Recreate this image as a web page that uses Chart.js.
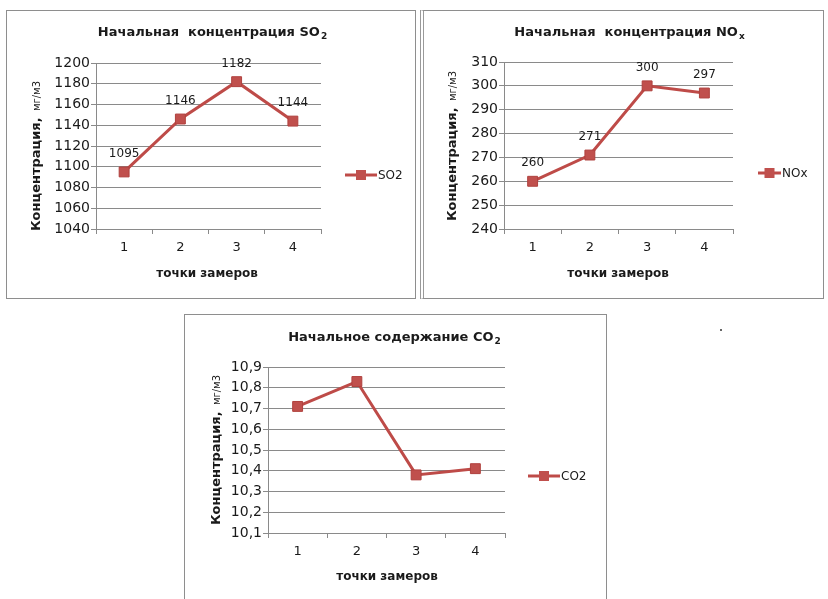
<!DOCTYPE html>
<html>
<head>
<meta charset="utf-8">
<script src="https://cdn.jsdelivr.net/npm/chart.js@4.4.0/dist/chart.umd.min.js"></script>
<style>
  body { margin: 0; background: #fff; width: 828px; height: 599px; overflow: hidden; position: relative; }
  .panel { position: absolute; border: 1px solid #8e8e8e; box-sizing: border-box; background: #fff; }
  .panel canvas { position: absolute; left: 0; top: 0; }
  #dot { position: absolute; left: 720px; top: 329px; width: 2px; height: 2px; background: #666; }
</style>
</head>
<body>
<div class="panel" style="left:6px;top:10px;width:410px;height:289px"><canvas id="c1" width="408" height="287"></canvas></div>
<div class="panel" style="left:420px;top:10px;width:404px;height:289px;border-left:4px double #9a9a9a"><canvas id="c2" width="399" height="287"></canvas></div>
<div class="panel" style="left:184px;top:314px;width:423px;height:300px"><canvas id="c3" width="421" height="298"></canvas></div>
<div id="dot"></div>
<script>
// точки замеров
const points = ['1', '2', '3', '4'];
// концентрации
const so2Values = [1095, 1146, 1182, 1144];
const noxValues = [260, 271, 300, 297];
const co2Values = [10.71, 10.83, 10.38, 10.41];
// оси Y
const so2Axis = [1040, 1200, 20];
const noxAxis = [240, 310, 10];
const co2Axis = [10.1, 10.9, 0.1];

const FONT = '"DejaVu Sans", "Noto Sans", sans-serif';
const RED = '#BE4B48';

// подписи, легенда и заголовки рисуем сами
const decor = {
  id: 'decor',
  afterDraw(chart, args, o) {
    const ctx = chart.ctx;
    ctx.save();
    ctx.fillStyle = '#1a1a1a';
    ctx.textBaseline = 'middle';

    // заголовок с индексом
    ctx.font = 'bold 13px ' + FONT;
    const w1 = ctx.measureText(o.title).width;
    ctx.font = 'bold 9px ' + FONT;
    const w2 = ctx.measureText(o.sub).width;
    let x = o.titleX - (w1 + w2) / 2;
    ctx.textAlign = 'left';
    ctx.font = 'bold 13px ' + FONT;
    ctx.fillText(o.title, x, o.titleY);
    ctx.font = 'bold 9px ' + FONT;
    ctx.fillText(o.sub, x + w1 + 1, o.titleY + 4);

    // подпись оси Y
    ctx.save();
    ctx.translate(o.yTitleX, o.yTitleY);
    ctx.rotate(-Math.PI / 2);
    ctx.font = 'bold 13px ' + FONT;
    const b1 = ctx.measureText('Концентрация,').width;
    ctx.font = '10px ' + FONT;
    const b2 = ctx.measureText('  мг/м3').width;
    let sx = -(b1 + b2) / 2;
    ctx.font = 'bold 13px ' + FONT;
    ctx.fillText('Концентрация,', sx, 0);
    ctx.font = '10px ' + FONT;
    ctx.fillText('  мг/м3', sx + b1, 0);
    ctx.restore();

    // подпись оси X
    ctx.textAlign = 'center';
    ctx.font = 'bold 12px ' + FONT;
    ctx.fillText('точки замеров', o.xTitleX, o.xTitleY);

    // значения над точками
    if (o.showValues) {
      ctx.font = '12px ' + FONT;
      const meta = chart.getDatasetMeta(0);
      meta.data.forEach((p, i) => {
        ctx.fillText(String(chart.data.datasets[0].data[i]), p.x, p.y - 18);
      });
    }

    // легенда
    ctx.strokeStyle = RED;
    ctx.lineWidth = 3;
    ctx.beginPath();
    ctx.moveTo(o.legX, o.legY);
    ctx.lineTo(o.legX + o.legW, o.legY);
    ctx.stroke();
    ctx.fillStyle = '#C0504D';
    const mx = o.legX + o.legW / 2;
    ctx.fillRect(mx - 5, o.legY - 5, 10, 10);
    ctx.fillStyle = '#1a1a1a';
    ctx.textAlign = 'left';
    ctx.font = '12px ' + FONT;
    ctx.fillText(chart.data.datasets[0].label, o.legX + o.legW + 1, o.legY + 1);
    ctx.restore();
  }
};

function makeChart(id, name, values, axis, fmt, area, deco) {
  const canvas = document.getElementById(id);
  const W = canvas.width, H = canvas.height;
  return new Chart(canvas, {
    type: 'line',
    data: {
      labels: points,
      datasets: [{
        label: name,
        data: values,
        borderColor: RED,
        borderWidth: 3,
        pointStyle: 'rect',
        pointRadius: 7,
        pointHoverRadius: 7,
        pointBackgroundColor: '#C0504D',
        pointBorderColor: '#B0413E',
        pointBorderWidth: 1,
        tension: 0
      }]
    },
    options: {
      responsive: false,
      animation: false,
      layout: { padding: { left: 0, top: area.t, right: W - area.r, bottom: 0 } },
      plugins: {
        legend: { display: false },
        tooltip: { enabled: false },
        decor: deco
      },
      scales: {
        x: {
          offset: true,
          grid: { offset: true, drawOnChartArea: false, drawTicks: true, tickLength: 5, color: '#8a8a8a' },
          border: { color: '#8a8a8a' },
          ticks: { font: { family: FONT, size: 13 }, color: '#1a1a1a', padding: 6 },
          afterFit: s => { s.height = H - area.b; }
        },
        y: {
          min: axis[0], max: axis[1],
          grid: { color: '#8a8a8a', tickLength: 5 },
          border: { color: '#8a8a8a' },
          ticks: {
            stepSize: axis[2],
            font: { family: FONT, size: 14 },
            color: '#1a1a1a',
            padding: 1,
            callback: v => fmt(v)
          },
          afterFit: s => { s.width = area.l; }
        }
      }
    },
    plugins: [decor]
  });
}

makeChart('c1', 'SO2', so2Values, so2Axis, v => String(v),
  { l: 89, r: 314, t: 52, b: 218 },
  { title: 'Начальная  концентрация SO', sub: '2', titleX: 205, titleY: 22,
    yTitleX: 30, yTitleY: 145, xTitleX: 200, xTitleY: 263,
    legX: 338, legY: 164, legW: 32, showValues: true });

makeChart('c2', 'NOx', noxValues, noxAxis, v => String(v),
  { l: 80, r: 309, t: 51, b: 218 },
  { title: 'Начальная  концентрация NO', sub: 'x', titleX: 205, titleY: 22,
    yTitleX: 29, yTitleY: 135, xTitleX: 194, xTitleY: 263,
    legX: 334, legY: 162, legW: 23, showValues: true });

makeChart('c3', 'CO2', co2Values, co2Axis, v => v.toFixed(1).replace('.', ','),
  { l: 83, r: 320, t: 52, b: 218 },
  { title: 'Начальное содержание CO', sub: '2', titleX: 209, titleY: 23,
    yTitleX: 32, yTitleY: 135, xTitleX: 202, xTitleY: 262,
    legX: 343, legY: 161, legW: 32, showValues: false });
</script>
</body>
</html>
